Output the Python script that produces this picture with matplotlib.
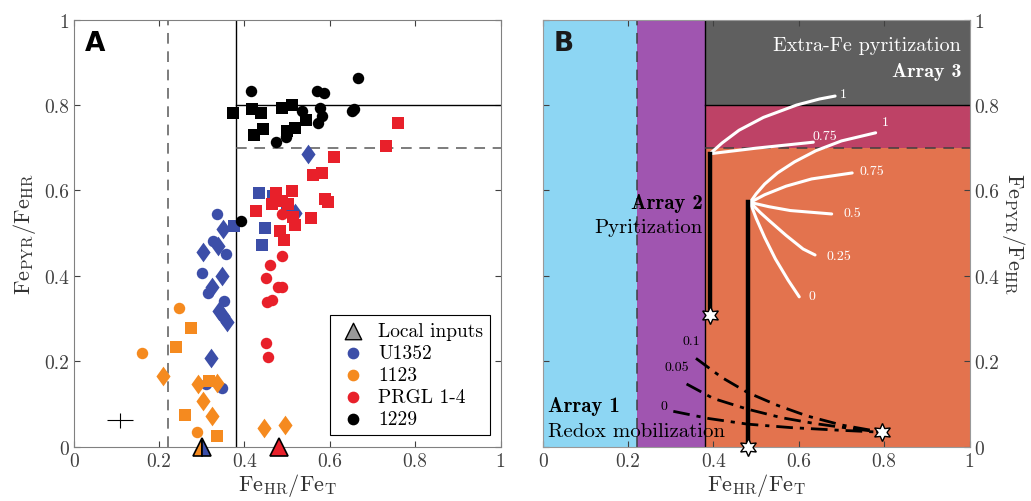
import matplotlib
matplotlib.use("Agg")
import matplotlib.pyplot as plt
import numpy as np

plt.rcParams['font.family'] = 'serif'
plt.rcParams['font.serif'] = ['cmr10', 'DejaVu Serif']
plt.rcParams['mathtext.fontset'] = 'cm'
plt.rcParams['axes.formatter.use_mathtext'] = True

# ---- panel A data (FeHR/FeT, FePYR/FeHR) ----
u1352_circ_x = [0.335, 0.357, 0.300, 0.315, 0.353, 0.309, 0.347, 0.327]
u1352_circ_y = [0.545, 0.451, 0.406, 0.360, 0.342, 0.147, 0.137, 0.482]
u1352_diam_x = [0.549, 0.518, 0.349, 0.304, 0.347, 0.339, 0.323, 0.341, 0.350, 0.358, 0.321]
u1352_diam_y = [0.685, 0.547, 0.509, 0.456, 0.400, 0.470, 0.373, 0.319, 0.307, 0.293, 0.208]
u1352_sq_x = [0.435, 0.448, 0.440, 0.376, 0.467, 0.500]
u1352_sq_y = [0.594, 0.512, 0.472, 0.516, 0.588, 0.557]

o1123_circ_x = [0.247, 0.159, 0.288]
o1123_circ_y = [0.326, 0.219, 0.035]
o1123_sq_x = [0.275, 0.239, 0.318, 0.261, 0.336]
o1123_sq_y = [0.277, 0.233, 0.155, 0.075, 0.026]
o1123_diam_x = [0.210, 0.292, 0.335, 0.302, 0.325, 0.446, 0.495]
o1123_diam_y = [0.165, 0.148, 0.149, 0.108, 0.073, 0.045, 0.052]

prgl_sq_x = [0.759, 0.731, 0.609, 0.581, 0.561, 0.474, 0.511, 0.487, 0.503, 0.464,
             0.427, 0.589, 0.595, 0.514, 0.555, 0.518, 0.483, 0.493]
prgl_sq_y = [0.757, 0.704, 0.678, 0.640, 0.636, 0.594, 0.598, 0.575, 0.568, 0.568,
             0.552, 0.580, 0.572, 0.539, 0.536, 0.518, 0.505, 0.485]
prgl_circ_x = [0.487, 0.487, 0.460, 0.450, 0.479, 0.487, 0.453, 0.465, 0.450, 0.456]
prgl_circ_y = [0.545, 0.447, 0.426, 0.394, 0.373, 0.373, 0.340, 0.344, 0.242, 0.209]

s1229_sq_x = [0.374, 0.417, 0.438, 0.489, 0.511, 0.544, 0.519, 0.500, 0.444, 0.423]
s1229_sq_y = [0.781, 0.791, 0.781, 0.793, 0.800, 0.765, 0.746, 0.740, 0.744, 0.730]
s1229_circ_x = [0.416, 0.535, 0.569, 0.587, 0.577, 0.582, 0.573, 0.497, 0.474, 0.651,
                0.657, 0.665, 0.392]
s1229_circ_y = [0.833, 0.785, 0.832, 0.828, 0.793, 0.775, 0.758, 0.726, 0.714, 0.787,
                0.791, 0.863, 0.529]

local_x = [0.30, 0.48]
local_y = [0.0, 0.0]
err_x, err_y = 0.109, 0.062
err_dx, err_dy = 0.03, 0.017

# thresholds
hr_lo, hr_hi = 0.22, 0.38
pyr_lo, pyr_hi = 0.7, 0.8

# ---- panel B model curves ----
fan1 = {
    '1': ([0.392, 0.42, 0.46, 0.517, 0.595, 0.648, 0.685],
          [0.686, 0.711, 0.741, 0.771, 0.800, 0.814, 0.821]),
    '0.75': ([0.392, 0.50, 0.634], [0.686, 0.699, 0.713]),
}
fan1_lab = {'1': (0.695, 0.826), '0.75': (0.632, 0.728)}
fan2 = {
    '1': ([0.486, 0.50, 0.52, 0.55, 0.59, 0.64, 0.70, 0.780],
          [0.572, 0.592, 0.615, 0.641, 0.667, 0.693, 0.716, 0.735]),
    '0.75': ([0.486, 0.52, 0.57, 0.63, 0.725], [0.572, 0.590, 0.610, 0.627, 0.641]),
    '0.5': ([0.486, 0.53, 0.58, 0.677], [0.572, 0.562, 0.553, 0.545]),
    '0.25': ([0.486, 0.51, 0.53, 0.57, 0.61, 0.638], [0.572, 0.548, 0.530, 0.495, 0.463, 0.449]),
    '0': ([0.486, 0.50, 0.52, 0.545, 0.575, 0.601], [0.572, 0.535, 0.490, 0.440, 0.390, 0.351]),
}
fan2_lab = {'1': (0.795, 0.760), '0.75': (0.743, 0.646), '0.5': (0.705, 0.547),
            '0.25': (0.666, 0.447), '0': (0.623, 0.354)}
redox = {
    '0.1': ([0.359, 0.42, 0.48, 0.55, 0.62, 0.70, 0.796],
            [0.207, 0.162, 0.127, 0.097, 0.072, 0.051, 0.034]),
    '0.05': ([0.337, 0.40, 0.48, 0.56, 0.64, 0.72, 0.796],
             [0.147, 0.113, 0.088, 0.068, 0.054, 0.043, 0.034]),
    '0': ([0.306, 0.39, 0.48, 0.58, 0.69, 0.796],
          [0.083, 0.066, 0.053, 0.045, 0.039, 0.034]),
}
redox_lab = {'0.1': (0.327, 0.248), '0.05': (0.285, 0.186), '0': (0.276, 0.096)}
pyr_lines = [([0.392, 0.392], [0.309, 0.686]), ([0.482, 0.482], [0.0, 0.572])]
stars_x = [0.392, 0.482, 0.796]
stars_y = [0.309, 0.0, 0.034]

blue = '#3c4ea8'
orange = '#f58a1f'
red = '#e8202a'

# a diamond a bit narrower than 'D' but wider than 'd'
diamond = [(0, 1), (0.72, 0), (0, -1), (-0.72, 0), (0, 1)]

fig = plt.figure(figsize=(10.31, 5.02), dpi=100)
axA = fig.add_axes([0.0715, 0.108, 0.414, 0.851])
axB = fig.add_axes([0.5264, 0.108, 0.414, 0.851])

# ---------------- Panel A ----------------
ms = 68
md = 200
axA.scatter(u1352_circ_x, u1352_circ_y, s=ms, marker='o', color=blue, lw=0, zorder=3)
axA.scatter(u1352_sq_x, u1352_sq_y, s=ms, marker='s', color=blue, lw=0, zorder=3)
axA.scatter(u1352_diam_x, u1352_diam_y, s=md, marker=diamond, color=blue, lw=0, zorder=3)
axA.scatter(o1123_circ_x, o1123_circ_y, s=ms, marker='o', color=orange, lw=0, zorder=3)
axA.scatter(o1123_sq_x, o1123_sq_y, s=ms, marker='s', color=orange, lw=0, zorder=3)
axA.scatter(o1123_diam_x, o1123_diam_y, s=md, marker=diamond, color=orange, lw=0, zorder=3)
axA.scatter(prgl_sq_x, prgl_sq_y, s=ms, marker='s', color=red, lw=0, zorder=3)
axA.scatter(prgl_circ_x, prgl_circ_y, s=ms, marker='o', color=red, lw=0, zorder=3)
axA.scatter(s1229_sq_x, s1229_sq_y, s=ms, marker='s', color='k', lw=0, zorder=3)
axA.scatter(s1229_circ_x, s1229_circ_y, s=ms, marker='o', color='k', lw=0, zorder=3)

axA.plot(local_x[0], local_y[0], marker='^', ms=13, fillstyle='left', mfc=orange,
         mfcalt=blue, mec='k', mew=1.2, clip_on=False, zorder=5)
axA.plot(local_x[1], local_y[1], marker='^', ms=13, mfc=red, mec='k', mew=1.2,
         clip_on=False, zorder=5)

axA.errorbar(err_x, err_y, xerr=err_dx, yerr=err_dy, color='k', lw=0.8, capsize=0)

axA.axvline(hr_lo, color='0.35', ls=(0, (7, 5)), lw=1.1)
axA.axvline(hr_hi, color='k', lw=1.0)
axA.plot([hr_hi, 1], [pyr_hi, pyr_hi], color='k', lw=1.0)
axA.plot([hr_hi, 1], [pyr_lo, pyr_lo], color='0.35', ls=(0, (7, 5)), lw=1.1)

axA.scatter([], [], marker='^', s=140, color='0.6', edgecolor='k', label='Local inputs')
axA.scatter([], [], marker='o', s=55, color=blue, label='U1352')
axA.scatter([], [], marker='o', s=55, color=orange, label='1123')
axA.scatter([], [], marker='o', s=55, color=red, label='PRGL 1-4')
axA.scatter([], [], marker='o', s=55, color='k', label='1229')
leg = axA.legend(loc='lower right', bbox_to_anchor=(0.975, 0.027), fontsize=14,
                 fancybox=False, edgecolor='k', framealpha=1, handletextpad=0.5,
                 borderpad=0.35, labelspacing=0.22, handlelength=1.6,
                 borderaxespad=0)
leg.get_frame().set_linewidth(0.8)

axA.text(0.025, 0.945, 'A', transform=axA.transAxes, fontsize=19, fontweight='bold',
         family='DejaVu Sans', va='center')

axA.set_xlim(0, 1)
axA.set_ylim(0, 1)
axA.set_xticks(np.arange(0, 1.01, 0.2))
axA.set_yticks(np.arange(0, 1.01, 0.2))
axA.set_xticklabels(['0', '0.2', '0.4', '0.6', '0.8', '1'])
axA.set_yticklabels(['0', '0.2', '0.4', '0.6', '0.8', '1'])
axA.tick_params(direction='in', top=True, right=True, labelsize=14, colors='0.25',
                length=4)
for sp in axA.spines.values():
    sp.set_color('0.5')
axA.set_xlabel(r'$\mathrm{Fe_{HR}/Fe_{T}}$', fontsize=16, color='0.2', labelpad=1)
axA.set_ylabel(r'$\mathrm{Fe_{PYR}/Fe_{HR}}$', fontsize=16, color='0.2', labelpad=4)

# ---------------- Panel B ----------------
axB.axvspan(0, hr_lo, color='#8dd6f3', lw=0)
axB.axvspan(hr_lo, hr_hi, color='#a055b0', lw=0)
axB.fill_between([hr_hi, 1], 0, pyr_lo, color='#e3734e', lw=0)
axB.fill_between([hr_hi, 1], pyr_lo, pyr_hi, color='#be4266', lw=0)
axB.fill_between([hr_hi, 1], pyr_hi, 1, color='#5f5f5f', lw=0)
axB.axvline(hr_lo, color='0.25', ls=(0, (7, 5)), lw=1.1)
axB.axvline(hr_hi, color='k', lw=1.0)
axB.plot([hr_hi, 1], [pyr_hi, pyr_hi], color='k', lw=1.0)
axB.plot([hr_hi, 1], [pyr_lo, pyr_lo], color='0.25', ls=(0, (7, 5)), lw=1.1)

for k, (xs, ys) in fan1.items():
    axB.plot(xs, ys, color='w', lw=2.2, solid_capstyle='round', solid_joinstyle='round', zorder=4)
    axB.text(fan1_lab[k][0], fan1_lab[k][1], k, color='w', fontsize=10, va='center')
for k, (xs, ys) in fan2.items():
    axB.plot(xs, ys, color='w', lw=2.2, solid_capstyle='round', solid_joinstyle='round', zorder=4)
    axB.text(fan2_lab[k][0], fan2_lab[k][1], k, color='w', fontsize=10, va='center')
for k, (xs, ys) in redox.items():
    axB.plot(xs, ys, color='k', lw=2.0, ls=(0, (6, 2.5, 1.5, 2.5)), zorder=4)
    axB.text(redox_lab[k][0], redox_lab[k][1], k, color='k', fontsize=10, va='center')
for xs, ys in pyr_lines:
    axB.plot(xs, ys, color='k', lw=3.2, zorder=5)
axB.plot(stars_x, stars_y, ls='none', marker=(6, 1, 0), ms=13, mfc='w', mec='k',
         mew=1.0, clip_on=False, zorder=6)

axB.text(0.98, 0.94, 'Extra-Fe pyritization', color='w', fontsize=14.5, ha='right',
         va='center')
axB.text(0.98, 0.88, 'Array 3', color='w', fontsize=14.5, ha='right', va='center',
         family='cmb10')
axB.text(0.375, 0.572, 'Array 2', color='k', fontsize=15, ha='right', va='center',
         family='cmb10', zorder=7)
axB.text(0.375, 0.514, 'Pyritization', color='k', fontsize=15, ha='right',
         va='center', zorder=7)
axB.text(0.012, 0.096, 'Array 1', color='k', fontsize=15, ha='left', va='center',
         family='cmb10', zorder=7)
axB.text(0.012, 0.037, 'Redox mobilization', color='k', fontsize=15, ha='left',
         va='center', zorder=7)
axB.text(0.025, 0.945, 'B', transform=axB.transAxes, fontsize=19, fontweight='bold',
         family='DejaVu Sans', va='center', color='0.1')

axB.set_xlim(0, 1)
axB.set_ylim(0, 1)
axB.set_xticks(np.arange(0, 1.01, 0.2))
axB.set_yticks(np.arange(0, 1.01, 0.2))
axB.set_xticklabels(['0', '0.2', '0.4', '0.6', '0.8', '1'])
axB.set_yticklabels(['0', '0.2', '0.4', '0.6', '0.8', '1'])
axB.yaxis.tick_right()
axB.yaxis.set_label_position('right')
axB.tick_params(direction='in', top=True, left=True, labelsize=14, colors='0.25',
                length=4)
axB.tick_params(axis='y', labelleft=False, labelright=True)
for sp in axB.spines.values():
    sp.set_color('0.6')
axB.set_xlabel(r'$\mathrm{Fe_{HR}/Fe_{T}}$', fontsize=16, color='0.2', labelpad=1)
axB.set_ylabel(r'$\mathrm{Fe_{PYR}/Fe_{HR}}$', fontsize=16, color='0.2', rotation=270,
               labelpad=20)

fig.savefig('out.png', dpi=100)
